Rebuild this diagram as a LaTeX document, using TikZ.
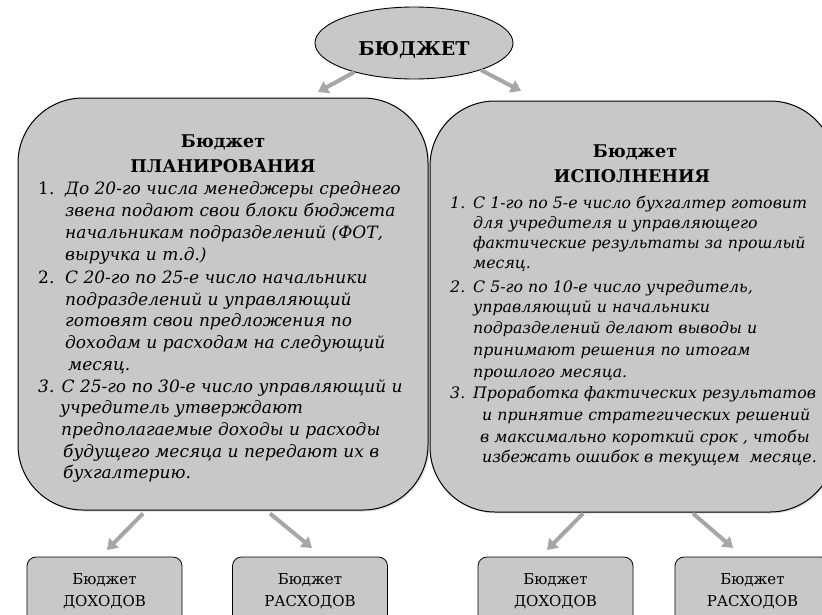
\documentclass[tikz,border=0pt]{standalone}
\usepackage{fontspec}
\setmainfont{DejaVu Serif}
\usetikzlibrary{shapes.geometric,arrows.meta,calc,shadows}
\definecolor{boxgray}{RGB}{200,200,202}
\definecolor{arrowgray}{RGB}{166,166,166}
\tikzset{
    bigbox/.style={draw, line width=1pt, fill=boxgray, rounded corners=65pt, inner sep=0pt,
        drop shadow={opacity=0.25, shadow xshift=1.5pt, shadow yshift=-1.5pt}},
    smallbox/.style={draw, line width=0.8pt, fill=boxgray, rounded corners=9pt,
        minimum width=155pt, minimum height=68pt, inner sep=0pt, align=center,
        font=\fontsize{15}{22}\selectfont},
    garrow/.style={draw=arrowgray, line width=4pt, -{Triangle[width=13pt,length=10pt]}},
    heading/.style={anchor=base, inner sep=0pt, font=\bfseries\fontsize{17.5}{24}\selectfont},
    itline/.style={anchor=base west, inner sep=0pt, font=\itshape\fontsize{#1}{20}\selectfont},
    itline/.default=17,
    numline/.style={anchor=base west, inner sep=0pt, font=\fontsize{17}{20}\selectfont},
}
\begin{document}
\begin{tikzpicture}[x=1pt,y=-1pt]
    \useasboundingbox (0,0) rectangle (822,614);
    % top
    \node[ellipse, draw, line width=0.9pt, fill=boxgray, minimum width=198pt, minimum height=72pt,
        inner sep=0pt, text height=24pt, text depth=0pt,
        font=\bfseries\fontsize{19}{24}\selectfont] (budget) at (414,43) {БЮДЖЕТ};
    % big boxes
    \node[bigbox, minimum width=410pt, minimum height=412pt] (plan) at (223,304) {};
    \node[bigbox, minimum width=405pt, minimum height=411pt] (exec) at (632.5,306.5) {};
    \coordinate (tipPlan) at (318,92);
    \coordinate (tipExec) at (521,91);
    \draw[garrow] (budget.206) -- (tipPlan);
    \draw[garrow] (budget.338) -- (tipExec);
    % planning
    \node[heading] (planA) at (223,147) {Бюджет};
    \node[heading] (planB) at (223,172) {ПЛАНИРОВАНИЯ};
    \node[numline] (pn1) at (38,194) {1.};
    \node[numline] (pn2) at (38,283) {2.};
    \foreach \x/\y/\t [count=\i] in {
        65/194/{До 20-го числа менеджеры среднего},
        65/216/{звена подают свои блоки бюджета},
        65/238/{начальникам подразделений (ФОТ,},
        65/260/{выручка и т.д.)},
        65/283/{С 20-го по 25-е число начальники},
        65/305/{подразделений и управляющий},
        65/326/{готовят свои предложения по},
        65/348/{доходам и расходам на следующий},
        68/370/{месяц.},
        38/392/{3. С 25-го по 30-е число управляющий и},
        60/413/{учредитель утверждают},
        61/435/{предполагаемые доходы и расходы},
        63/457/{будущего месяца и передают их в},
        63/478/{бухгалтерию.}}
        \node[itline] (pl\i) at (\x,\y) {\t};
    % execution
    \node[heading] (execA) at (635,157) {Бюджет};
    \node[heading] (execB) at (632,182) {ИСПОЛНЕНИЯ};
    \node[itline=15.8] (en1) at (450,208) {1.};
    \node[itline=15.8] (en2) at (450,292) {2.};
    \node[itline=15.8] (en3) at (450,398) {3.};
    \foreach \x/\y/\t [count=\i] in {
        473/208/{С 1-го по 5-е число бухгалтер готовит},
        473/228/{для учредителя и управляющего},
        473/248/{фактические результаты за прошлый},
        473/268/{месяц.},
        473/292/{С 5-го по 10-е число учредитель,},
        473/312/{управляющий и начальники},
        473/333/{подразделений делают выводы и},
        473/355/{принимают решения по итогам},
        473/377/{прошлого месяца.},
        473/398/{Проработка фактических результатов},
        482/420/{и принятие стратегических решений},
        480/442/{в максимально короткий срок , чтобы},
        482/462/{избежать ошибок в текущем \ месяце.}}
        \node[itline=15.8] (el\i) at (\x,\y) {\t};
    % bottom
    \node[smallbox] (planInc) at (104.5,591) {Бюджет\\ДОХОДОВ};
    \node[smallbox] (planExp) at (310,591) {Бюджет\\РАСХОДОВ};
    \node[smallbox] (execInc) at (555.5,591) {Бюджет\\ДОХОДОВ};
    \node[smallbox] (execExp) at (752.5,591) {Бюджет\\РАСХОДОВ};
    \coordinate (tip1) at (107,550);
    \coordinate (tip2) at (312,548);
    \coordinate (tip3) at (547,550);
    \coordinate (tip4) at (733,548);
    \draw[garrow] ($(plan.south)+(-80,3)$) -- (tip1);
    \draw[garrow] ($(plan.south)+(47,3)$) -- (tip2);
    \draw[garrow] ($(exec.south)+(-49.5,1)$) -- (tip3);
    \draw[garrow] ($(exec.south)+(60.5,1)$) -- (tip4);
\end{tikzpicture}
\end{document}
